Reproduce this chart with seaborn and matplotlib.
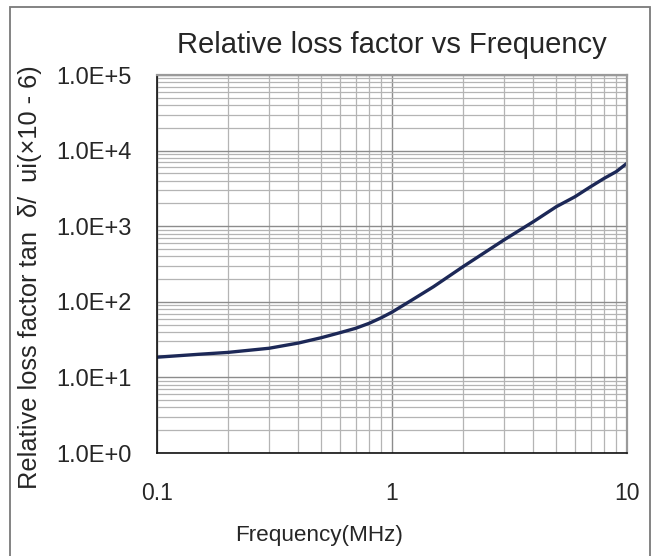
import numpy as np
import pandas as pd
import matplotlib
matplotlib.use("Agg")
import matplotlib.pyplot as plt
from matplotlib.patches import Rectangle
from matplotlib.ticker import LogLocator, NullFormatter
import seaborn as sns

# Relative loss factor curve (tan δ / µi, ×10^-6) against frequency in MHz
freq_mhz = [0.1, 0.15, 0.2, 0.3, 0.4, 0.5, 0.6, 0.7, 0.8, 0.9, 1.0, 1.2, 1.5,
            2.0, 3.0, 4.0, 5.0, 6.0, 7.0, 8.0, 9.0, 10.0]
loss_factor = [18.5, 20.2, 21.4, 24.3, 28.5, 33.5, 39.0, 44.6, 52.0, 61.5, 73.0, 103, 158,
               290, 660, 1150, 1810, 2450, 3330, 4300, 5270, 6800]

x_ticks = [0.1, 1, 10]
x_tick_labels = ["0.1", "1", "10"]
y_ticks = [1e0, 1e1, 1e2, 1e3, 1e4, 1e5]
y_tick_labels = ["1.0E+0", "1.0E+1", "1.0E+2", "1.0E+3", "1.0E+4", "1.0E+5"]

title = "Relative loss factor vs Frequency"
x_label = "Frequency(MHz)"
y_label = "Relative loss factor tan  δ/  ui(×10 - 6)"

sns.set_style("white")
plt.rcParams["font.family"] = ["Liberation Sans", "DejaVu Sans"]

df = pd.DataFrame({"freq": freq_mhz, "loss": loss_factor})

fig = plt.figure(figsize=(6.55, 5.56), dpi=100)
ax = fig.add_axes([157 / 655, 1 - 453 / 556, (627 - 157) / 655, (453 - 75) / 556])

sns.lineplot(data=df, x="freq", y="loss", ax=ax, color="#1c2857", linewidth=2.4)

ax.set_xscale("log")
ax.set_yscale("log")
ax.set_xlim(0.1, 10)
ax.set_ylim(1, 1e5)

ax.set_xticks(x_ticks)
ax.set_xticklabels(x_tick_labels, fontsize=16.5)
ax.set_yticks(y_ticks)
ax.set_yticklabels(y_tick_labels, fontsize=17)
ax.xaxis.set_minor_locator(LogLocator(base=10, subs=np.arange(2, 10)))
ax.yaxis.set_minor_locator(LogLocator(base=10, subs=np.arange(2, 10)))
ax.xaxis.set_minor_formatter(NullFormatter())
ax.yaxis.set_minor_formatter(NullFormatter())

ax.grid(which="major", color="#8c8c8c", linewidth=1.0)
ax.grid(which="minor", color="#b4b4b4", linewidth=0.9)
ax.set_axisbelow(True)

ax.tick_params(axis="both", which="major", direction="in", length=4, width=1,
               color="#222222")
ax.tick_params(axis="y", which="major", pad=18)
ax.tick_params(axis="x", which="major", pad=21)
ax.tick_params(axis="both", which="minor", length=0)

for side in ("left", "bottom"):
    ax.spines[side].set_color("#111111")
    ax.spines[side].set_linewidth(1.2)
for side in ("top", "right"):
    ax.spines[side].set_color("#9a9a9a")
    ax.spines[side].set_linewidth(1.6)

ax.set_xlabel("")
ax.set_ylabel("")
fig.text(392 / 655, 1 - 45 / 556, title, ha="center", va="center", fontsize=21)
fig.text(319 / 655, 1 - 535 / 556, x_label, ha="center", va="center", fontsize=16.2)
fig.text(30 / 655, 1 - 277 / 556, y_label, ha="center", va="center",
         rotation=90, fontsize=18.3)

# outer chart frame
fig.patches.append(Rectangle((10 / 655, -0.05), (650 - 10) / 655, 1.05 - 7 / 556,
                             transform=fig.transFigure, fill=False,
                             edgecolor="#7a7a7a", linewidth=1.3))

fig.savefig("out.png", dpi=100)
